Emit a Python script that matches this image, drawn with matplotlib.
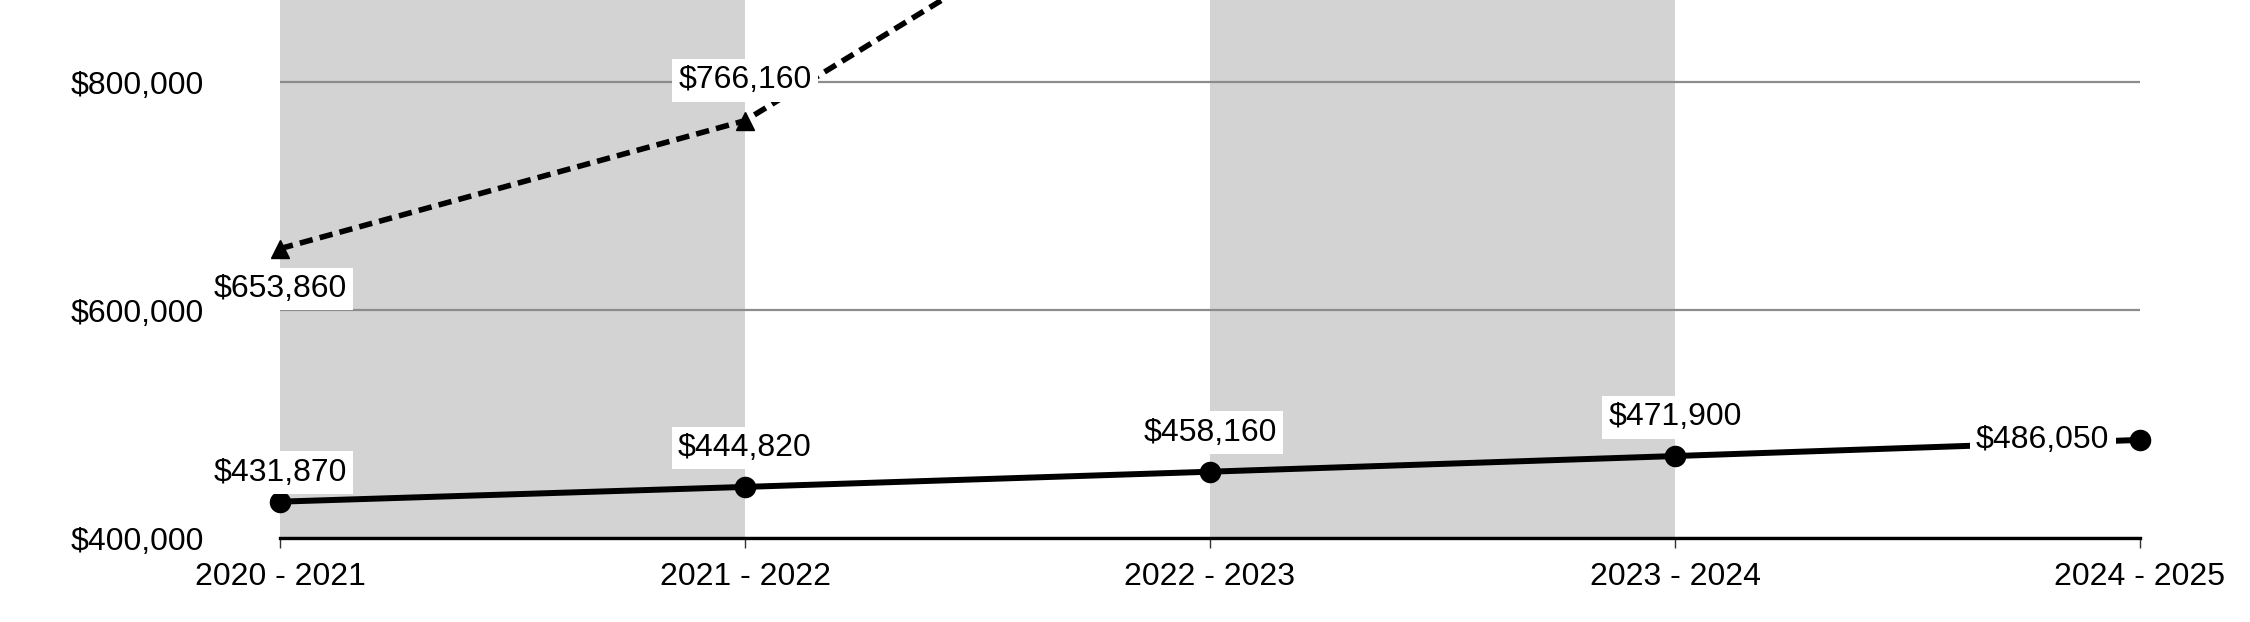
"""Two-series trend chart with shaded year bands."""

import matplotlib.pyplot as plt
import numpy as np

plt.rcParams.update(
    {
        "font.family": ["Liberation Sans", "DejaVu Sans"],
        "font.size": 23,
    }
)

years = ["2020 - 2021", "2021 - 2022", "2022 - 2023", "2023 - 2024", "2024 - 2025"]
solid_values = [431870, 444820, 458160, 471900, 486050]
dashed_values = [653860, 766160, 1016000]  # third point runs off the top
y_ticks = [400000, 600000, 800000]

fig = plt.figure(figsize=(22.5, 6.22), dpi=100)
ax = fig.add_axes([280 / 2250, 84 / 622, 1860 / 2250, 538 / 622])

x = np.arange(len(years))
ax.set_xlim(0, len(years) - 1)
ax.set_ylim(400000, 872000)

# shaded bands between alternate year ticks
for i in range(0, len(years) - 1, 2):
    ax.axvspan(x[i], x[i + 1], color="#d3d3d3", lw=0, zorder=0)

ax.set_yticks(y_ticks)
ax.set_yticklabels([f"${v:,}" for v in y_ticks])
ax.yaxis.grid(True, color="#8c8c8c", lw=1.6, zorder=1)
ax.set_axisbelow(False)
ax.tick_params(axis="y", length=0, pad=55)

ax.set_xticks(x)
ax.set_xticklabels(years)
ax.tick_params(axis="x", length=7, width=1, color="#333333", pad=10)

for side in ["top", "right", "left"]:
    ax.spines[side].set_visible(False)
ax.spines["bottom"].set_color("black")
ax.spines["bottom"].set_linewidth(2.4)
ax.spines["bottom"].set_zorder(4)

# solid series
ax.plot(x, solid_values, color="black", lw=4.3, zorder=3)
ax.plot(x, solid_values, "o", color="black", ms=14.5, clip_on=False, zorder=4)

# dashed series
xd = x[: len(dashed_values)]
ax.plot(xd, dashed_values, color="black", lw=4, ls=(0, (2.4, 1.3)), zorder=3)
ax.plot(xd, dashed_values, "^", color="black", ms=13.5, clip_on=False, zorder=4)

box = dict(boxstyle="square,pad=0.2", fc="white", ec="none")

solid_offsets = [(0, 21), (0, 28), (0, 28), (0, 28), (-22, 0)]
for xi, v, (dx, dy) in zip(x, solid_values, solid_offsets):
    ax.annotate(
        f"${v:,}",
        (xi, v),
        xytext=(dx, dy),
        textcoords="offset points",
        ha="right" if dx < 0 else "center",
        va="center",
        bbox=box,
        zorder=6,
        annotation_clip=False,
    )

dashed_offsets = [(0, -29), (0, 29)]
for xi, v, (dx, dy) in zip(xd, dashed_values, dashed_offsets):
    ax.annotate(
        f"${v:,}",
        (xi, v),
        xytext=(dx, dy),
        textcoords="offset points",
        ha="center",
        va="center",
        bbox=box,
        zorder=6,
    )

fig.savefig("out.png", dpi=100)
